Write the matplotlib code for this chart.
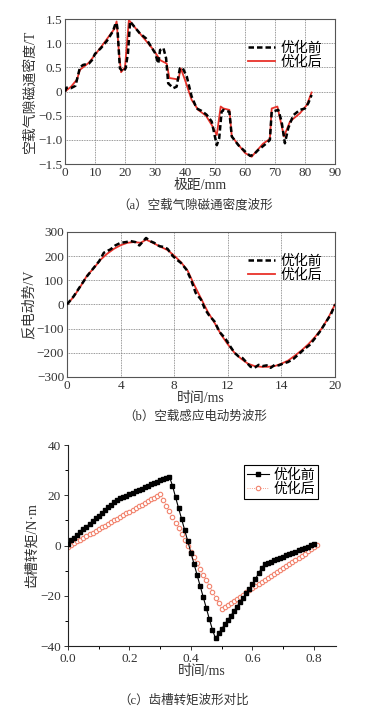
import matplotlib
matplotlib.use('Agg')
import matplotlib.pyplot as plt
from matplotlib.ticker import MultipleLocator, FixedLocator, FixedFormatter

plt.rcParams['font.family'] = ['Liberation Serif', 'Noto Sans CJK SC']
plt.rcParams['axes.unicode_minus'] = True

# (a) no-load air-gap flux density
a_x_before = [0, 0.5, 2, 3.5, 4.2, 5, 6, 8, 9, 10, 12, 14, 16, 16.8, 17.2, 17.5, 18.3, 19.4, 20.2,
              21, 21.7, 23, 25, 27, 29, 30, 31.1, 31.7, 32.8, 33.7, 34.4, 36.1, 37.2, 38.3, 39.2,
              40.6, 42.2, 43.9, 45.5, 47.2, 48.9, 50.6, 51.4, 52.2, 52.8, 54.8, 55.6, 57.8, 60,
              61.7, 62.8, 64.4, 67.2, 68.3, 68.9, 71.1, 72.2, 73.3, 74.4, 76.1, 78.3, 80, 81.1, 82.2]
a_y_before = [0.0, 0.08, 0.07, 0.12, 0.3, 0.5, 0.55, 0.58, 0.65, 0.78, 0.9, 1.05, 1.25, 1.4, 1.42,
              1.3, 0.48, 0.41, 0.48, 0.8, 1.45, 1.35, 1.2, 1.1, 0.9, 0.8, 0.58, 0.86, 0.9, 0.69,
              0.17, 0.07, 0.1, 0.48, 0.49, 0.31, -0.1, -0.35, -0.4, -0.48, -0.62, -1.11, -0.97,
              -0.42, -0.38, -0.42, -0.93, -1.11, -1.24, -1.33, -1.31, -1.21, -1.07, -1.0, -0.42,
              -0.38, -0.62, -1.07, -0.76, -0.49, -0.38, -0.35, -0.24, -0.07]
a_x_after = [0, 2, 4, 5, 8, 12, 16.5, 17.2, 18, 18.7, 20, 21.3, 23, 25, 29, 30.6, 31.7, 33.9, 34.8,
             37.8, 38.6, 40, 42.2, 44.4, 47, 49, 50.6, 51.9, 52.8, 54.8, 55.6, 60, 62.2, 66,
             68.3, 68.9, 70.8, 71.9, 73, 75, 78.3, 80.6, 82.2]
a_y_after = [0.0, 0.1, 0.25, 0.45, 0.6, 0.92, 1.3, 1.45, 0.8, 0.4, 0.5, 1.48, 1.35, 1.2, 0.9, 0.76,
             0.65, 0.58, 0.28, 0.25, 0.48, 0.24, -0.17, -0.38, -0.5, -0.7, -0.9, -0.31, -0.35,
             -0.38, -0.93, -1.27, -1.35, -1.08, -0.98, -0.35, -0.31, -0.62, -0.93, -0.62, -0.45,
             -0.28, -0.02]

# (b) no-load back EMF
b_t_before = [0, 0.5, 1, 1.5, 2, 2.4, 2.75, 3.25, 3.6, 4, 4.4, 4.75, 5.1, 5.4, 5.9, 6.2, 6.5,
              6.9, 7.2, 7.5, 7.9, 8.2, 8.5, 8.9, 9.25, 9.6, 10, 10.3, 10.6, 11, 11.4, 11.8, 12.2,
              12.5, 12.8, 13.1, 13.4, 13.7, 14, 14.3, 14.6, 14.9, 15.2, 15.5, 15.8, 16.1, 16.5,
              16.9, 17.3, 17.7, 18.1, 18.5, 18.9, 19.3, 19.7, 20]
b_v_before = [0, 34, 76, 117, 152, 179, 214, 228, 244, 255, 258, 262, 258, 244, 275, 262, 255,
              241, 238, 230, 200, 185, 172, 145, 103, 48, 20, -20, -45, -70, -115, -140, -175,
              -200, -215, -222, -240, -258, -262, -250, -255, -252, -262, -250, -252, -245, -238,
              -225, -205, -185, -168, -140, -110, -75, -40, 0]
b_t_after = [0, 0.5, 1, 1.5, 2, 2.5, 3, 3.5, 4, 4.5, 5, 5.5, 5.9, 6.3, 7, 7.5, 8, 8.5, 9, 9.5,
             10, 10.5, 11, 11.5, 12, 12.5, 13, 13.5, 14, 14.5, 15, 15.5, 16, 16.5, 17, 17.5, 18,
             18.5, 19, 19.5, 20]
b_v_after = [0, 32, 74, 120, 150, 185, 210, 230, 245, 255, 258, 255, 268, 258, 238, 225, 202,
             175, 140, 80, 25, -30, -75, -125, -165, -200, -225, -245, -255, -258, -258, -255,
             -245, -232, -212, -190, -165, -135, -100, -55, 0]
b_tick_pos = [0, 4, 8, 12, 16, 20]
b_tick_lab = ['0', '4', '8', '12', '14', '20']

# (c) cogging torque
c_t_before = [i / 100 for i in range(81)]
c_v_before = [0.8, 2.0, 3.1, 4.2, 5.3, 6.4, 7.5, 8.6, 9.7, 10.8, 11.9, 13.0, 14.1, 15.2, 16.3,
              17.3, 18.1, 18.8, 19.4, 19.9, 20.4, 21.0, 21.5, 22.1, 22.6, 23.2, 23.7, 24.3, 24.8,
              25.4, 25.9, 26.5, 27.0, 27.4, 23.8, 19.2, 14.8, 10.4, 6.0, 1.6, -2.9, -7.3, -11.7,
              -16.1, -20.5, -24.9, -29.3, -33.5, -37.0, -35.0, -33.2, -31.4, -29.6, -27.9, -26.1,
              -24.3, -22.5, -20.8, -19.0, -17.2, -15.4, -13.3, -11.1, -9.0, -7.4, -6.9, -6.4,
              -5.9, -5.4, -4.9, -4.4, -3.9, -3.4, -2.9, -2.4, -1.9, -1.4, -0.9, -0.4, 0.1, 0.5]
c_t_after = [i / 100 for i in range(82)]
c_v_after = [-0.5, 0.2, 0.9, 1.6, 2.3, 3.0, 3.7, 4.4, 5.1, 5.8, 6.5, 7.2, 7.9, 8.6, 9.3, 10.0,
             10.7, 11.4, 12.1, 12.8, 13.5, 14.2, 14.9, 15.6, 16.3, 17.0, 17.7, 18.4, 19.1, 19.8,
             20.5, 18.2, 15.9, 13.6, 11.3, 9.0, 6.8, 4.5, 2.2, -0.1, -2.4, -4.7, -7.0, -9.3,
             -11.6, -13.9, -16.2, -18.5, -20.7, -23.0, -25.3, -24.5, -23.7, -22.8, -22.0, -21.2,
             -20.4, -19.6, -18.7, -17.9, -17.1, -16.3, -15.5, -14.6, -13.8, -13.0, -12.2, -11.4,
             -10.5, -9.7, -8.9, -8.1, -7.3, -6.4, -5.6, -4.8, -4.0, -3.2, -2.3, -1.5, -0.7, 0.1]

red = '#e8322a'
salmon = '#f2826c'
txt = '#333333'

fig = plt.figure(figsize=(3.75, 7.11), dpi=100)


def grid_axes(ax):
    ax.grid(True, color='#777777', linestyle=(0, (1, 1)), linewidth=0.6)
    ax.tick_params(length=0, labelsize=9.5, colors=txt, pad=2)
    for s in ax.spines.values():
        s.set_color('#555555')
        s.set_linewidth(0.8)


# --- (a)
ax = fig.add_axes([0.1733, 0.7693, 0.72, 0.2039])
ax.plot(a_x_before, a_y_before, color='black', lw=1.8, ls=(0, (2.2, 1.2)), label='优化前', zorder=3)
ax.plot(a_x_after, a_y_after, color=red, lw=1.3, label='优化后', zorder=2)
ax.set_xlim(0, 90)
ax.set_ylim(-1.5, 1.5)
ax.xaxis.set_major_locator(MultipleLocator(10))
ax.yaxis.set_major_locator(FixedLocator([-1.5, -1.0, -0.5, 0, 0.5, 1.0, 1.5]))
ax.yaxis.set_major_formatter(FixedFormatter(['\u22121.5', '\u22121.0', '\u22120.5', '0', '0.5', '1.0', '1.5']))
grid_axes(ax)
ax.set_xlabel('极距/mm', fontsize=10, color=txt, labelpad=0)
ax.set_ylabel('空载气隙磁通密度/T', fontsize=10, color=txt, labelpad=1)
ax.legend(loc='upper right', bbox_to_anchor=(1.0, 0.93), frameon=False, fontsize=10,
          handlelength=2.0, handletextpad=0.4, labelspacing=0.05)
fig.text(0.52, 1 - 205 / 711, '（a）空载气隙磁通密度波形', ha='center', va='center', fontsize=9, color=txt)

# --- (b)
ax = fig.add_axes([0.1787, 0.4698, 0.7147, 0.204])
ax.plot(b_t_before, b_v_before, color='black', lw=1.8, ls=(0, (2.2, 1.2)), label='优化前', zorder=3)
ax.plot(b_t_after, b_v_after, color=red, lw=1.3, label='优化后', zorder=2)
ax.set_xlim(0, 20)
ax.set_ylim(-300, 300)
ax.xaxis.set_major_locator(FixedLocator(b_tick_pos))
ax.xaxis.set_major_formatter(FixedFormatter(b_tick_lab))
ax.yaxis.set_major_locator(MultipleLocator(100))
grid_axes(ax)
ax.set_xlabel('时间/ms', fontsize=10, color=txt, labelpad=0)
ax.set_ylabel('反电动势/V', fontsize=10, color=txt, labelpad=1)
ax.legend(loc='upper right', bbox_to_anchor=(1.0, 0.93), frameon=False, fontsize=10,
          handlelength=2.0, handletextpad=0.4, labelspacing=0.05)
fig.text(0.52, 1 - 417 / 711, '（b）空载感应电动势波形', ha='center', va='center', fontsize=9, color=txt)

# --- (c)
ax = fig.add_axes([0.1813, 0.0914, 0.7147, 0.2827])
ax.plot(c_t_before, c_v_before, color='black', lw=0.8, marker='s', ms=2.4, label='优化前', zorder=3)
ax.plot(c_t_after, c_v_after, color=salmon, lw=0.6, ls=':', marker='o', ms=3.2,
        mfc='white', mec=salmon, mew=0.8, label='优化后', zorder=2)
ax.set_xlim(0, 0.872)
ax.set_ylim(-40, 40)
ax.xaxis.set_major_locator(FixedLocator([0, 0.2, 0.4, 0.6, 0.8]))
ax.xaxis.set_major_formatter(FixedFormatter(['0.0', '0.2', '0.4', '0.6', '0.8']))
ax.xaxis.set_minor_locator(MultipleLocator(0.1))
ax.yaxis.set_major_locator(MultipleLocator(20))
ax.yaxis.set_minor_locator(MultipleLocator(10))
ax.spines['top'].set_visible(False)
ax.spines['right'].set_visible(False)
for s in ax.spines.values():
    s.set_color('#222222')
    s.set_linewidth(0.8)
ax.tick_params(which='major', direction='out', length=3, width=0.7, labelsize=9.5, colors=txt, pad=2)
ax.tick_params(which='minor', direction='out', length=2, width=0.7)
ax.set_xlabel('时间/ms', fontsize=10, color=txt, labelpad=0)
ax.set_ylabel('齿槽转矩/N·m', fontsize=10, color=txt, labelpad=1)
leg = ax.legend(loc='upper right', bbox_to_anchor=(0.945, 0.915), fontsize=10, fancybox=False,
                edgecolor='black', framealpha=1, handlelength=1.6, handletextpad=0.3,
                labelspacing=0.05, borderpad=0.25, borderaxespad=0.2)
leg.get_frame().set_linewidth(0.8)
fig.text(0.49, 1 - 700 / 711, '（c）齿槽转矩波形对比', ha='center', va='center', fontsize=9, color=txt)

fig.savefig('out.png', dpi=100)
